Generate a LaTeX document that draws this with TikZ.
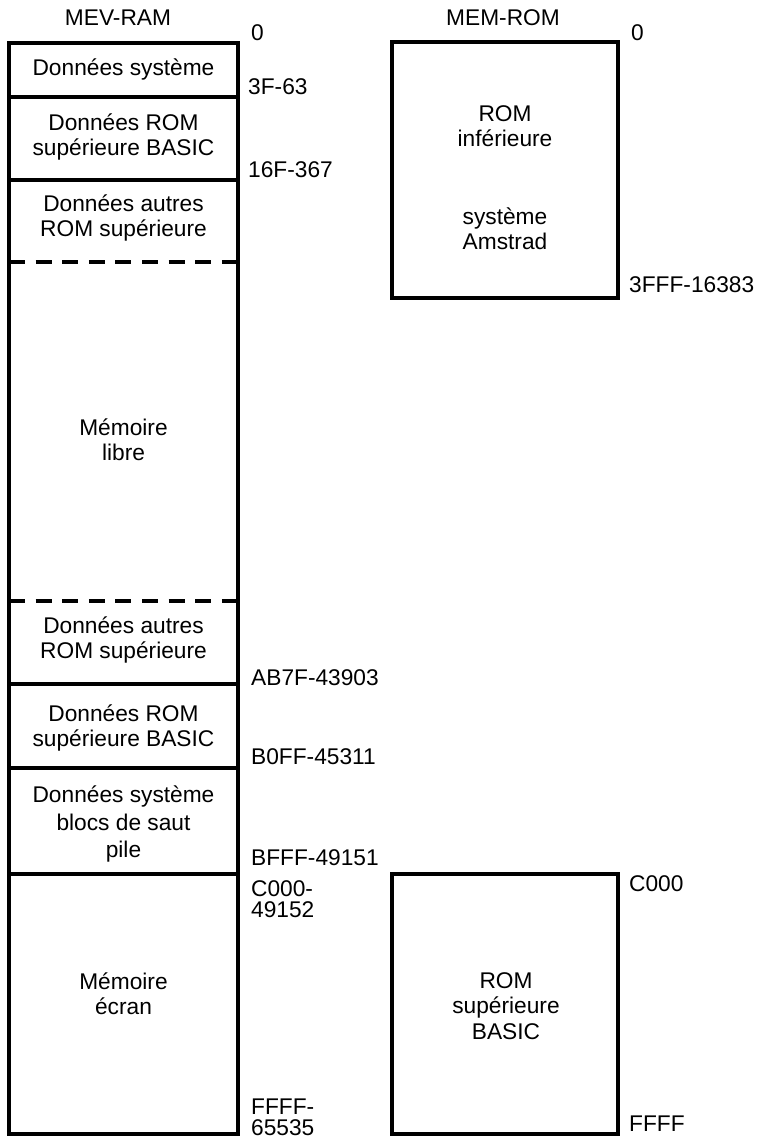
\documentclass[tikz,border=0pt]{standalone}
\usepackage{fontspec}
\setmainfont{Liberation Sans}
\begin{document}
\begin{tikzpicture}[x=1bp,y=-1bp,
  txt/.style={align=center,inner sep=0pt,font=\fontsize{22.8}{25.5}\selectfont},
  lbl/.style={anchor=west,align=left,inner sep=0pt,font=\fontsize{22.8}{21.5}\selectfont},
  outer/.style={line width=3.6bp,line join=miter},
  sep/.style={line width=3.2bp},
  dsep/.style={line width=3.2bp,dash pattern=on 16bp off 10.6bp}]
\useasboundingbox (0,0) rectangle (762,1138);
% left column (MEV-RAM)
\coordinate (LT) at (9,43);
\coordinate (LB) at (238,1134);
\draw[sep] (9,97) -- (238,97);
\draw[sep] (9,180) -- (238,180);
\draw[dsep] (9,262) -- (238,262);
\draw[dsep] (9,601) -- (238,601);
\draw[sep] (9,684) -- (238,684);
\draw[sep] (9,768) -- (238,768);
\draw[sep] (9,874) -- (238,874);
\draw[outer] (LT) rectangle (LB);
\node[txt] (ram) at (118,18) {MEV-RAM};
\node[txt] (b1) at (123.5,69) {Données système};
\node[txt] (b2) at (123.5,137) {Données ROM\\supérieure BASIC};
\node[txt] (b3) at (123.5,218) {Données autres\\ROM supérieure};
\node[txt] (b4) at (123.5,440) {Mémoire\\libre};
\node[txt] (b5) at (123.5,640) {Données autres\\ROM supérieure};
\node[txt] (b6) at (123.5,728) {Données ROM\\supérieure BASIC};
\node[txt,font=\fontsize{22.8}{28}\selectfont] (b7) at (123.5,824) {Données système\\blocs de saut\\pile};
\node[txt] (b8) at (123.5,994) {Mémoire\\écran};
% addresses left
\node[lbl] (a0) at (251,33) {0};
\node[lbl] (a1) at (248,87) {3F-63};
\node[lbl] (a2) at (248,170) {16F-367};
\node[lbl] (a3) at (251,678) {AB7F-43903};
\node[lbl] (a4) at (251,757) {B0FF-45311};
\node[lbl] (a5) at (251,858) {BFFF-49151};
\node[lbl] (a6) at (251,899) {C000-\\49152};
\node[lbl] (a7) at (251,1117) {FFFF-\\65535};
% right column (MEM-ROM)
\draw[outer] (392,42) rectangle (618,298);
\draw[outer] (392,874) rectangle (618,1134);
\node[txt] (rom) at (503,18) {MEM-ROM};
\node[txt] (r1) at (505,126) {ROM\\inférieure};
\node[txt] (r2) at (505,229) {système\\Amstrad};
\node[txt] (r3) at (506,1006) {ROM\\supérieure\\BASIC};
\node[lbl] (c0) at (631,33) {0};
\node[lbl] (c1) at (629,285) {3FFF-16383};
\node[lbl] (c2) at (629,884) {C000};
\node[lbl] (c3) at (629,1124) {FFFF};
\end{tikzpicture}
\end{document}
